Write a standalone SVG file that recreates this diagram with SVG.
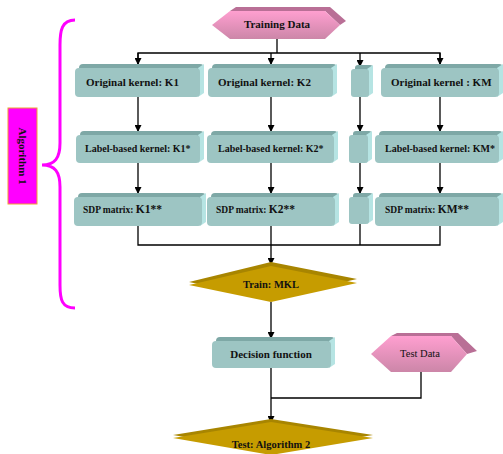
<svg xmlns="http://www.w3.org/2000/svg" width="503" height="454" viewBox="0 0 503 454">
<defs>
<marker id="ah" markerWidth="7" markerHeight="7" refX="6" refY="3.5" orient="auto" markerUnits="userSpaceOnUse"><path d="M0,0 L7,3.5 L0,7 z" fill="#000"/></marker>
<linearGradient id="pink" x1="0" y1="0" x2="0" y2="1"><stop offset="0" stop-color="#ff9fd0"/><stop offset="1" stop-color="#cc86a8"/></linearGradient>
</defs>
<style>
.top{fill:#7ea8a6}.side{fill:#b6e4e3}.face{fill:#9dc5c3}
.t{font-family:"Liberation Serif","Times New Roman",serif;font-weight:bold;fill:#111}
.c{fill:none;stroke:#000;stroke-width:1.3}
.pb{fill:#b96f96}
.dt{fill:#a88500}.df{fill:#c69c00}
</style>
<rect width="503" height="454" fill="#fff"/>

<g id="algorithm1">
<path d="M75,20 C62,20 60,30 60,45 L60,143 C60,158 55,165 42,165 C55,165 60,172 60,187 L60,285 C60,300 62,308 75,308" fill="none" stroke="#ff00ff" stroke-width="3"/>
<rect x="8" y="108" width="29" height="96" fill="#ff00ff" stroke="#f0a030" stroke-width="1"/>
<text class="t" font-size="11" text-anchor="middle" transform="translate(19,156) rotate(90)">Algorithm 1</text>
</g>

<g id="training-data">
<polygon class="pb" points="230,11 236,7 330,7 346,21 340,25 325,11"/>
<polygon fill="url(#pink)" points="212,25 230,11 325,11 340,25 325,39 230,39"/>
<text class="t" font-size="11" x="277" y="28" text-anchor="middle">Training Data</text>
</g>

<g id="connectors">
<path class="c" d="M277,39 V53"/>
<path class="c" d="M138,64 V53 H440 V64"/>
<path class="c" d="M138,53 V64" marker-end="url(#ah)"/>
<path class="c" d="M271,53 V64" marker-end="url(#ah)"/>
<path class="c" d="M360,53 V66" marker-end="url(#ah)"/>
<path class="c" d="M440,53 V64" marker-end="url(#ah)"/>
<path class="c" d="M138,97 V131" marker-end="url(#ah)"/>
<path class="c" d="M271,97 V131" marker-end="url(#ah)"/>
<path class="c" d="M360,97 V131" marker-end="url(#ah)"/>
<path class="c" d="M440,97 V131" marker-end="url(#ah)"/>
<path class="c" d="M138,163 V193" marker-end="url(#ah)"/>
<path class="c" d="M271,163 V193" marker-end="url(#ah)"/>
<path class="c" d="M360,163 V193" marker-end="url(#ah)"/>
<path class="c" d="M440,163 V193" marker-end="url(#ah)"/>
<path class="c" d="M138,226 V245 H440 V226"/>
<path class="c" d="M271,226 V245"/>
<path class="c" d="M360,224 V245"/>
<path class="c" d="M271,245 V264" marker-end="url(#ah)"/>
<path class="c" d="M271,302 V338" marker-end="url(#ah)"/>
<path class="c" d="M271,368 V422" marker-end="url(#ah)"/>
<path class="c" d="M421,372 V398 H271"/>
</g>

<g id="k1">
<rect class="top" x="79" y="64" width="125" height="29" rx="4"/>
<polygon class="side" points="198,68 204,64 204,93 198,97"/>
<rect class="face" x="75" y="68" width="125" height="29" rx="4"/>
<text class="t" font-size="11" x="86" y="86">Original kernel: K1</text>
</g>
<g id="k2">
<rect class="top" x="212" y="64" width="125" height="29" rx="4"/>
<polygon class="side" points="331,68 337,64 337,93 331,97"/>
<rect class="face" x="208" y="68" width="125" height="29" rx="4"/>
<text class="t" font-size="11" x="218" y="86">Original kernel: K2</text>
</g>
<g id="k3">
<rect class="top" x="355" y="65" width="18" height="28" rx="3"/>
<polygon class="side" points="367,69 373,65 373,93 367,97"/>
<rect class="face" x="351" y="69" width="18" height="28" rx="3"/>
</g>
<g id="km">
<rect class="top" x="385" y="64" width="118" height="29" rx="4"/>
<polygon class="side" points="497,68 503,64 503,93 497,97"/>
<rect class="face" x="381" y="68" width="118" height="29" rx="4"/>
<text class="t" font-size="11" x="391" y="86">Original kernel : KM</text>
</g>

<g id="k1s">
<rect class="top" x="80" y="131" width="124" height="28" rx="4"/>
<polygon class="side" points="198,135 204,131 204,159 198,163"/>
<rect class="face" x="76" y="135" width="124" height="28" rx="4"/>
<text class="t" font-size="10" x="85" y="152">Label-based kernel: K1*</text>
</g>
<g id="k2s">
<rect class="top" x="211" y="131" width="127" height="28" rx="4"/>
<polygon class="side" points="332,135 338,131 338,159 332,163"/>
<rect class="face" x="207" y="135" width="127" height="28" rx="4"/>
<text class="t" font-size="10" x="218" y="152">Label-based kernel: K2*</text>
</g>
<g id="k3s">
<rect class="top" x="353" y="131" width="19" height="28" rx="3"/>
<polygon class="side" points="366,135 372,131 372,159 366,163"/>
<rect class="face" x="349" y="135" width="19" height="28" rx="3"/>
</g>
<g id="kms">
<rect class="top" x="379" y="131" width="124" height="28" rx="4"/>
<polygon class="side" points="497,135 503,131 503,159 497,163"/>
<rect class="face" x="375" y="135" width="124" height="28" rx="4"/>
<text class="t" font-size="10" x="385" y="152">Label-based kernel: KM*</text>
</g>

<g id="k1ss">
<rect class="top" x="78" y="193" width="128" height="29" rx="4"/>
<polygon class="side" points="200,197 206,193 206,222 200,226"/>
<rect class="face" x="74" y="197" width="128" height="29" rx="4"/>
<text class="t" x="83" y="213"><tspan font-size="9.5">SDP matrix: </tspan><tspan font-size="11.5">K1**</tspan></text>
</g>
<g id="k2ss">
<rect class="top" x="211" y="193" width="128" height="29" rx="4"/>
<polygon class="side" points="333,197 339,193 339,222 333,226"/>
<rect class="face" x="207" y="197" width="128" height="29" rx="4"/>
<text class="t" x="216" y="213"><tspan font-size="9.5">SDP matrix: </tspan><tspan font-size="11.5">K2**</tspan></text>
</g>
<g id="k3ss">
<rect class="top" x="353" y="193" width="20" height="27" rx="3"/>
<polygon class="side" points="367,197 373,193 373,220 367,224"/>
<rect class="face" x="349" y="197" width="20" height="27" rx="3"/>
</g>
<g id="kmss">
<rect class="top" x="379" y="193" width="124" height="29" rx="4"/>
<polygon class="side" points="497,197 503,193 503,222 497,226"/>
<rect class="face" x="375" y="197" width="124" height="29" rx="4"/>
<text class="t" x="385" y="213"><tspan font-size="9.5">SDP matrix: </tspan><tspan font-size="11.5">KM**</tspan></text>
</g>

<g id="train-mkl">
<polygon class="dt" points="189,282 271,262 357,279 271,299"/>
<polygon class="df" points="189,285 271,266 357,283 271,302"/>
<text class="t" font-size="10.5" x="271" y="288" text-anchor="middle">Train: MKL</text>
</g>

<g id="decision-function">
<rect class="top" x="216" y="337" width="119" height="27" rx="4"/>
<polygon class="side" points="329,341 335,337 335,364 329,368"/>
<rect class="face" x="212" y="341" width="119" height="27" rx="4"/>
<text class="t" font-size="11" x="271" y="358" text-anchor="middle">Decision function</text>
</g>

<g id="test-data">
<polygon class="pb" points="391,336 397,333 458,333 477,351 467,354 451,336"/>
<polygon fill="url(#pink)" points="371,354 391,336 451,336 467,354 451,372 391,372"/>
<text font-family="Liberation Serif,Times New Roman,serif" font-size="10.5" fill="#111" x="420" y="357" text-anchor="middle">Test Data</text>
</g>

<g id="test-algorithm2">
<polygon class="dt" points="173,435 271,419 373,435 271,452"/>
<polygon class="df" points="173,438 271,422 373,438 271,455"/>
<text class="t" font-size="10.5" x="271" y="448" text-anchor="middle">Test: Algorithm 2</text>
</g>
</svg>
